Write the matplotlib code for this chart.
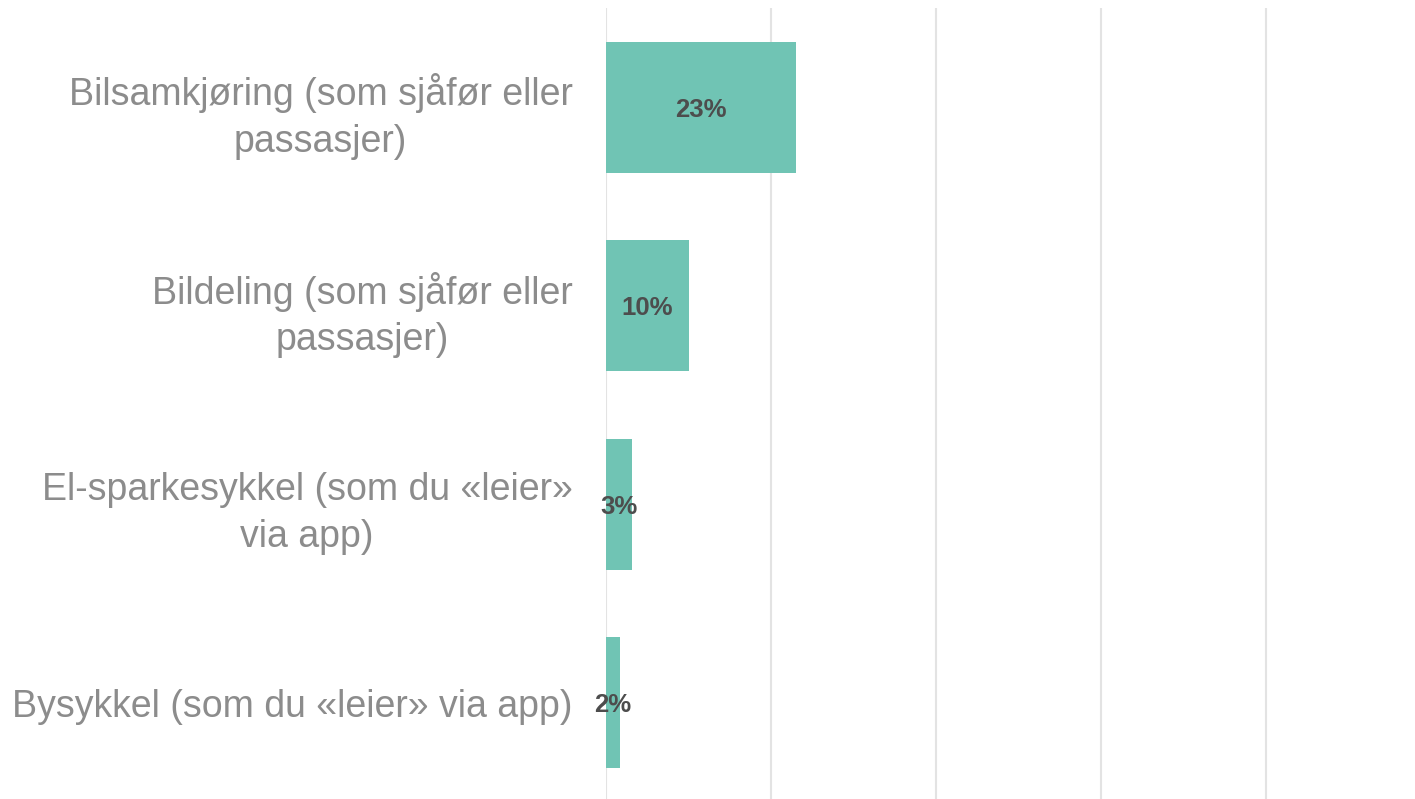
import matplotlib.pyplot as plt

# data
categories = [
    "Bilsamkjøring (som sjåfør eller\npassasjer)",
    "Bildeling (som sjåfør eller\npassasjer)",
    "El-sparkesykkel (som du «leier»\nvia app)",
    "Bysykkel (som du «leier» via app)",
]
values = [0.23, 0.10, 0.031, 0.017]
labels = ["23%", "10%", "3%", "2%"]

plt.rcParams['font.family'] = ['Liberation Sans', 'DejaVu Sans']

fig = plt.figure(figsize=(14.15, 7.99), dpi=100)
ax = fig.add_axes([606 / 1415, -3 / 799, 809 / 1415, 794 / 799])

ypos = list(range(len(categories)))
ax.barh(ypos, values, height=0.66, color='#70C4B4', zorder=3)

# value labels centered in the bars
for y, v, lab in zip(ypos, values, labels):
    ax.text(v / 2, y, lab, ha='center', va='center_baseline', fontsize=18.5,
            fontweight='bold', color='#4d4d4d', zorder=4)

ax.set_ylim(3.5, -0.5)
ax.set_xlim(0, 0.98)
ax.set_xticks([0, 0.2, 0.4, 0.6, 0.8])
ax.set_xticklabels([])
ax.grid(axis='x', color='#e3e3e3', linewidth=1.5, zorder=0)
ax.tick_params(length=0)
for s in ax.spines.values():
    s.set_visible(False)

ax.set_yticks(ypos)
ax.set_yticklabels(categories, fontsize=27, color='#8c8c8c',
                   multialignment='center', linespacing=1.37)
ax.tick_params(axis='y', pad=24)

fig.savefig('out.png', dpi=100)
